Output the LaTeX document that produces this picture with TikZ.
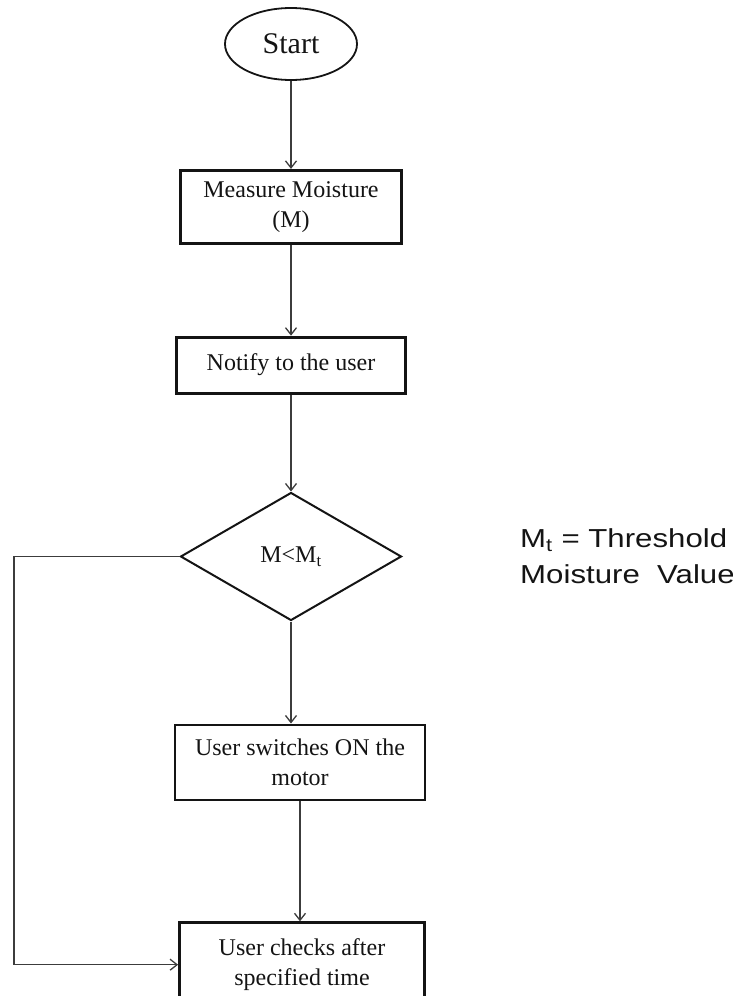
\documentclass[tikz,border=0pt]{standalone}
\usepackage{fontspec}
\setmainfont{Liberation Serif}
\newfontfamily\notefont{Liberation Sans}
\usepackage{tikz}
\usetikzlibrary{positioning, arrows.meta, shapes.geometric}
\definecolor{ink}{RGB}{20,20,20}
\definecolor{wire}{RGB}{60,60,60}

\begin{document}
\begin{tikzpicture}[
    term/.style={draw=ink, ellipse, line width=1.8pt, minimum width=132pt, minimum height=72pt,
                 inner sep=0pt, font=\fontsize{30pt}{34pt}\selectfont, text=ink},
    box/.style={draw=ink, line width=2.8pt, inner sep=0pt, align=center,
                font=\fontsize{24pt}{30pt}\selectfont, text=ink},
    decide/.style={draw=ink, diamond, line width=2pt, minimum width=221pt, minimum height=128pt,
                   inner sep=0pt, font=\fontsize{24pt}{28pt}\selectfont, text=ink},
    arr/.style={-{Straight Barb[length=7pt, width=11pt]}, draw=wire, line width=1.3pt}
  ]
  \useasboundingbox (0pt,0pt) rectangle (733pt,-996pt);
  \node[term] (start) at (291pt,-44pt) {Start};
  \node[box, minimum width=221pt, minimum height=73pt, below=88pt of start] (measure)
       {Measure Moisture\\(M)};
  \node[box, minimum width=229pt, minimum height=56pt, below=91pt of measure] (notify)
       {Notify to the user};
  \node[decide, below=97pt of notify] (dec) {M<M\textsubscript{t}};
  \node[box, minimum width=250pt, minimum height=75pt, below=102pt of dec, xshift=9pt] (motor)
       {User switches ON the\\motor};
  \node[box, minimum width=245pt, minimum height=84pt, below=120pt of motor, xshift=2pt] (check)
       {User checks after\\specified time};
  \node[anchor=west, align=left, xscale=1.2, font=\notefont\fontsize{26pt}{36pt}\selectfont,
        text=ink] (note) at (516pt,-556pt)
       {M\textsubscript{t} = Threshold\\Moisture\ \ Value};
  \coordinate (loop) at (14pt,0pt);
  \draw[arr] (start) -- (measure);
  \draw[arr] (measure) -- (notify);
  \draw[arr] (notify) -- (dec);
  \draw[arr] (dec.south) -- (dec.south |- motor.north);
  \draw[arr] (motor.south) -- (motor.south |- check.north);
  \draw[arr] (dec.west) -- (dec.west -| loop) |- (check.west);
\end{tikzpicture}
\end{document}
